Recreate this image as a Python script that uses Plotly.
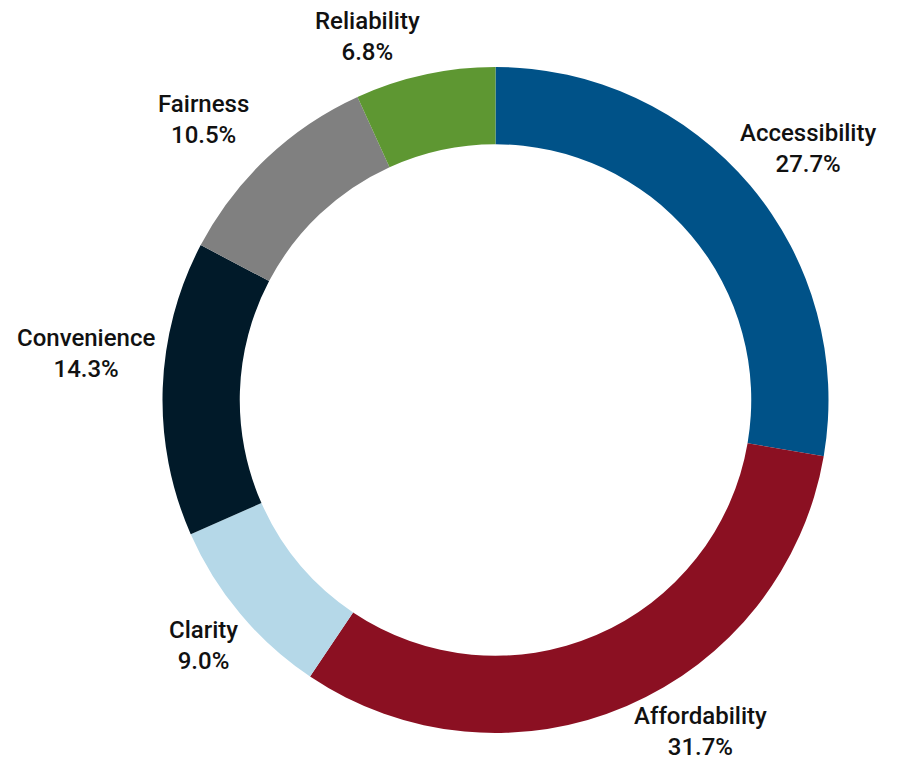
import plotly.graph_objects as go

categories = ["Accessibility", "Affordability", "Clarity", "Convenience", "Fairness", "Reliability"]
values = [27.7, 31.7, 9.0, 14.3, 10.5, 6.8]
colors = ["#005288", "#8B1022", "#B5D8E8", "#011A29", "#808080", "#5E9732"]

# label anchor positions in window pixels (x, y from top)
label_pos = {
    "Accessibility": (808, 148),
    "Affordability": (700, 731),
    "Clarity": (203, 645),
    "Convenience": (86, 353),
    "Fairness": (203, 120),
    "Reliability": (367, 37),
}

OFF = 8  # page body margin
W, H = 900 - OFF, 761 - OFF
cx, cy, r = 495.5 - OFF, 400 - OFF, 333

fig = go.Figure(go.Pie(
    labels=categories,
    values=values,
    marker=dict(colors=colors, line=dict(width=0)),
    hole=0.768,
    sort=False,
    direction="clockwise",
    rotation=0,
    textinfo="none",
    hoverinfo="label+percent",
    showlegend=False,
    domain=dict(x=[(cx - r) / W, (cx + r) / W], y=[(H - cy - r) / H, (H - cy + r) / H]),
))

font = dict(family="Roboto, Liberation Sans, Arial", size=24, color="#111111", weight=500)
for c, v in zip(categories, values):
    px, py = label_pos[c]
    px -= OFF
    py -= OFF
    fig.add_annotation(
        x=px / W, y=1 - py / H, xref="paper", yref="paper",
        text=f"{c}<br>{v:.1f}%", showarrow=False, font=font,
        xanchor="center", yanchor="middle", align="center",
    )

fig.update_layout(
    width=W, height=H,
    margin=dict(l=0, r=0, t=0, b=0),
    paper_bgcolor="white", plot_bgcolor="white",
)
fig.write_html("out.html")
